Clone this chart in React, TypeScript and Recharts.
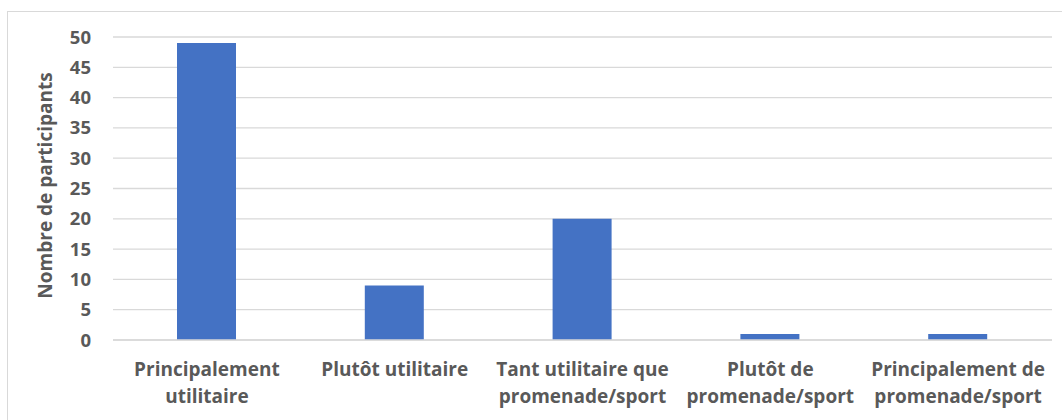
import { BarChart, Bar, XAxis, YAxis, CartesianGrid } from "recharts";

const categories = [
  "Principalement utilitaire",
  "Plutôt utilitaire",
  "Tant utilitaire que promenade/sport",
  "Plutôt de promenade/sport",
  "Principalement de promenade/sport",
];
const tickLines: string[][] = [
  ["Principalement", "utilitaire"],
  ["Plutôt utilitaire"],
  ["Tant utilitaire que", "promenade/sport"],
  ["Plutôt de", "promenade/sport"],
  ["Principalement de", "promenade/sport"],
];
const participants = [49, 9, 20, 1, 1];
const yTicks = [0, 5, 10, 15, 20, 25, 30, 35, 40, 45, 50];

const data = categories.map((name, i) => ({ name, value: participants[i], idx: i }));

const FONT = "'Open Sans', 'Liberation Sans', sans-serif";
const TEXT = "#595959";

function XTick(props: any) {
  const { x, y, index } = props;
  const lines = tickLines[index] || [];
  return (
    <text x={x} y={y} textAnchor="middle" fill={TEXT} fontFamily={FONT} fontSize={19} fontWeight={700}>
      {lines.map((l, i) => (
        <tspan key={i} x={x} dy={i === 0 ? 28 : 27}>
          {l}
        </tspan>
      ))}
    </text>
  );
}

export default function App() {
  return (
    <div style={{ position: "fixed", left: 0, top: 0, width: 1062, height: 420, background: "#fff", overflow: "hidden" }}>
      <div
        style={{
          position: "absolute",
          left: 7,
          top: 11,
          width: 1100,
          height: 440,
          border: "1px solid #d9d9d9",
          boxSizing: "border-box",
        }}
      />
      <div style={{ position: "absolute", left: 0, top: 0 }}>
        <BarChart
          width={1062}
          height={420}
          data={data}
          margin={{ top: 37, right: 10, left: 0, bottom: 0 }}
        >
          <CartesianGrid vertical={false} stroke="#d9d9d9" strokeWidth={1.3} />
          <XAxis
            dataKey="name"
            height={80}
            axisLine={{ stroke: "#d9d9d9", strokeWidth: 1.3 }}
            tickLine={false}
            interval={0}
            tick={<XTick />}
          />
          <YAxis
            width={113}
            domain={[0, 50]}
            ticks={yTicks}
            interval={0}
            axisLine={false}
            tickLine={false}
            tickMargin={16}
            tick={{ fill: TEXT, fontFamily: FONT, fontSize: 18.5, fontWeight: 700 }}
            label={{
              value: "Nombre de participants",
              angle: -90,
              position: "insideLeft",
              dx: 40,
              dy: -3,
              style: { fill: TEXT, fontFamily: FONT, fontSize: 19, fontWeight: 700, textAnchor: "middle" },
            }}
          />
          <Bar dataKey="value" fill="#4472c4" barSize={59} isAnimationActive={false} />
        </BarChart>
      </div>
    </div>
  );
}
